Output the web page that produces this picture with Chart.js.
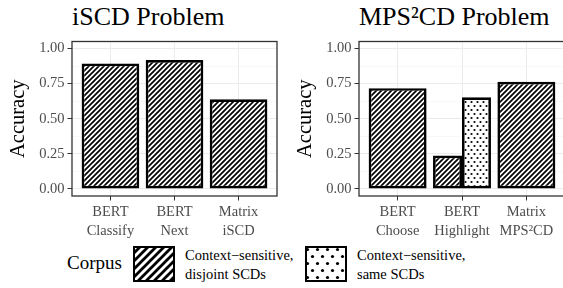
<!DOCTYPE html>
<html>
<head>
<meta charset="utf-8">
<script src="https://cdn.jsdelivr.net/npm/chart.js@4"></script>
<style>
body { margin:0; width:563px; height:288px; overflow:hidden; background:#fff; position:relative; font-family:"Liberation Serif", serif; }
.ttl { position:absolute; top:4px; font-size:26px; line-height:26px; color:#000; white-space:nowrap; }
canvas.ch { position:absolute; top:0; }
.lg { position:absolute; color:#000; white-space:nowrap; }
.lgtxt { font-size:14.5px; line-height:19px; top:246px; }
canvas.key { position:absolute; top:246px; }
</style>
</head>
<body>
<div class="ttl" style="left:72px">iSCD Problem</div>
<div class="ttl" style="left:359px">MPS²CD Problem</div>
<canvas id="left" class="ch" width="285" height="245" style="left:0"></canvas>
<canvas id="right" class="ch" width="290" height="245" style="left:287px"></canvas>

<div class="lg" style="left:67px;top:252px;font-size:19px;line-height:22px">Corpus</div>
<canvas id="key1" class="key" width="42" height="36" style="left:133px"></canvas>
<div class="lg lgtxt" style="left:185px">Context−sensitive,<br>disjoint SCDs</div>
<canvas id="key2" class="key" width="42" height="36" style="left:305px"></canvas>
<div class="lg lgtxt" style="left:357px">Context−sensitive,<br>same SCDs</div>

<script>
// ---- data ----
const iscdCategories = [["BERT", "Classify"], ["BERT", "Next"], ["Matrix", "iSCD"]];
const iscdDisjoint = [0.893, 0.918, 0.638];

const mpsCategories = [["BERT", "Choose"], ["BERT", "Highlight"], ["Matrix", "MPS²CD"]];
const mpsDisjoint = [0.718, 0.238, 0.763];
const mpsSame = [null, 0.653, null];

const yMajor = [0, 0.25, 0.5, 0.75, 1];
const yMinor = [0.125, 0.375, 0.625, 0.875];

const FONT = "'Liberation Serif', serif";

/*------------ fill patterns ------------*/
function hatchTile(s, lw) {
    const c = document.createElement("canvas");
    c.width = s; c.height = s;
    const g = c.getContext("2d");
    g.fillStyle = "#fff"; g.fillRect(0, 0, s, s);
    g.strokeStyle = "#000"; g.lineWidth = lw;
    g.beginPath();
    g.moveTo(-s / 2, s / 2); g.lineTo(s / 2, -s / 2);
    g.moveTo(-1, s + 1); g.lineTo(s + 1, -1);
    g.moveTo(s / 2, s * 1.5); g.lineTo(s * 1.5, s / 2);
    g.stroke();
    return c;
}
function dotTile(w, h, r) {
    const c = document.createElement("canvas");
    c.width = w; c.height = h;
    const g = c.getContext("2d");
    g.fillStyle = "#fff"; g.fillRect(0, 0, w, h);
    g.fillStyle = "#000";
    [[w / 4, h / 4], [w * 3 / 4, h * 3 / 4]].forEach(p => {
        g.beginPath(); g.arc(p[0], p[1], r, 0, Math.PI * 2); g.fill();
    });
    return c;
}
const tmp = document.createElement("canvas").getContext("2d");
const hatchFill = tmp.createPattern(hatchTile(5, 1.7), "repeat");
const dotFill = tmp.createPattern(dotTile(6, 8, 1.1), "repeat");

/*------------ panel border ------------*/
const panelBorder = {
    id: "panelBorder",
    afterDatasetsDraw(chart) {
        const { ctx, chartArea: a } = chart;
        ctx.save();
        ctx.strokeStyle = "#333";
        ctx.lineWidth = 1.3;
        ctx.strokeRect(a.left, a.top, a.right - a.left, a.bottom - a.top);
        ctx.restore();
    }
};

const isMajor = v => yMajor.some(m => Math.abs(m - v) < 1e-6);

function makeChart(id, cats, series, padRight) {
    const xs = cats.map((c, i) => i + 1);
    return new Chart(document.getElementById(id), {
        type: "bar",
        data: {
            datasets: series.map(s => ({
                data: s.values.map((v, i) => ({ x: xs[i], y: v })),
                backgroundColor: s.fill,
                borderColor: "#000",
                borderWidth: 2.7,
                borderSkipped: false,
                categoryPercentage: 0.9,
                barPercentage: 1,
                skipNull: true
            }))
        },
        options: {
            responsive: false,
            animation: false,
            events: [],
            layout: { padding: { left: 0, top: 41.5, right: padRight, bottom: 0 } },
            plugins: { legend: { display: false }, tooltip: { enabled: false } },
            scales: {
                x: {
                    type: "linear",
                    min: 0.4, max: 3.6,
                    offset: false,
                    afterBuildTicks: sc => { sc.ticks = xs.map(v => ({ value: v })); },
                    afterFit: sc => { sc.height = 49; },
                    border: { display: false },
                    grid: { offset: false, color: "#ebebeb", lineWidth: 1, tickColor: "#333", tickLength: 4.5, tickWidth: 1 },
                    ticks: {
                        callback: v => cats[Math.round(v) - 1],
                        color: "#4d4d4d",
                        font: { family: FONT, size: 14.5, lineHeight: 1.3 },
                        padding: 2, maxRotation: 0, autoSkip: false
                    }
                },
                y: {
                    min: -0.05, max: 1.05,
                    afterBuildTicks: sc => {
                        sc.ticks = yMajor.concat(yMinor).sort((a, b) => a - b).map(v => ({ value: v }));
                    },
                    afterFit: sc => { sc.width = 72; },
                    border: { display: false },
                    grid: {
                        color: c => isMajor(c.tick.value) ? "#ebebeb" : "#f4f4f4",
                        lineWidth: c => isMajor(c.tick.value) ? 1 : 0.6,
                        tickColor: c => isMajor(c.tick.value) ? "#333" : "rgba(0,0,0,0)",
                        tickLength: 4.5, tickWidth: 1
                    },
                    ticks: {
                        callback: v => isMajor(v) ? v.toFixed(2) : "",
                        color: "#4d4d4d",
                        font: { family: FONT, size: 14.5 },
                        padding: 3, autoSkip: false
                    },
                    title: {
                        display: true, text: "Accuracy", color: "#000",
                        font: { family: FONT, size: 20.5 }, padding: { top: 6, bottom: 0 }
                    }
                }
            }
        },
        plugins: [panelBorder]
    });
}

makeChart("left", iscdCategories, [{ values: iscdDisjoint, fill: hatchFill }], 8);
makeChart("right", mpsCategories, [
    { values: mpsDisjoint, fill: hatchFill },
    { values: mpsSame, fill: dotFill }
], 12);

/*------------ legend keys ------------*/
function drawKey(id, tile) {
    const cv = document.getElementById(id), g = cv.getContext("2d");
    g.fillStyle = g.createPattern(tile, "repeat");
    g.fillRect(0, 0, cv.width, cv.height);
    g.strokeStyle = "#000"; g.lineWidth = 2;
    g.strokeRect(1, 1, cv.width - 2, cv.height - 2);
}
drawKey("key1", hatchTile(8, 2.8));
drawKey("key2", dotTile(10, 14, 1.6));
</script>
</body>
</html>
